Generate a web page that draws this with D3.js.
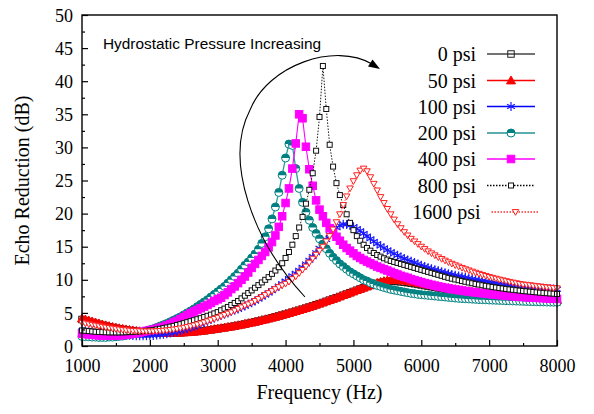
<!DOCTYPE html>
<html><head><meta charset="utf-8">
<script src="https://cdn.jsdelivr.net/npm/d3@7"></script>
<style>body{margin:0;background:#fff}svg{display:block}</style>
</head><body><svg id="c" width="594" height="414"></svg>
<script>
// Frequency grid (Hz): 1000..8000 every 50 Hz
const frequencies = d3.range(1000, 8001, 50);
const xTickValues = [1000,2000,3000,4000,5000,6000,7000,8000];
const yTickValues = [0,5,10,15,20,25,30,35,40,45,50];
const seriesNames = ["0 psi","50 psi","100 psi","200 psi","400 psi","800 psi","1600 psi"];

const psi0 = [4.0,
3.85,3.7,3.56,3.42,3.28,3.15,3.03,2.91,2.8,2.7,
2.6,2.51,2.43,2.36,2.29,2.23,2.17,2.12,2.08,2.04,
2.01,1.99,1.97,1.96,1.96,1.96,1.97,1.99,2.01,2.04,
2.07,2.11,2.15,2.2,2.25,2.31,2.37,2.44,2.51,2.59,
2.67,2.75,2.84,2.93,3.02,3.12,3.22,3.32,3.43,3.54,
3.65,3.77,3.89,4.01,4.14,4.27,4.4,4.54,4.68,4.82,
4.96,5.11,5.26,5.41,5.57,5.73,5.89,6.06,6.23,6.4,
6.57,6.75,6.93,7.11,7.29,7.48,7.67,7.86,8.05,8.24,
8.43,8.62,8.8,8.98,9.15,9.31,9.46,9.58,9.68,9.74,
9.77,9.77,9.74,9.69,9.63,9.56,9.48,9.4,9.31,9.22,
9.13,9.04,8.95,8.86,8.77,8.68,8.59,8.5,8.42,8.34,
8.26,8.18,8.1,8.03,7.96,7.89,7.82,7.75,7.69,7.63,
7.57,7.51,7.45,7.4,7.34,7.29,7.24,7.19,7.14,7.09,
7.05,7.0,6.96,6.91,6.87,6.83,6.79,6.75,6.71,6.68];

const psi50 = [4.15,
4.0,3.85,3.7,3.55,3.4,3.25,3.12,3.0,2.88,2.77,
2.67,2.58,2.5,2.42,2.35,2.28,2.22,2.17,2.12,2.08,
2.05,2.02,2.0,1.99,1.98,1.98,1.99,2.0,2.02,2.05,
2.08,2.12,2.16,2.21,2.27,2.33,2.4,2.47,2.55,2.63,
2.7,2.78,2.86,2.95,3.04,3.13,3.23,3.33,3.44,3.55,
3.66,3.78,3.9,4.02,4.15,4.28,4.41,4.55,4.69,4.83,
4.97,5.12,5.27,5.42,5.58,5.74,5.9,6.07,6.24,6.41,
6.58,6.76,6.94,7.12,7.3,7.49,7.68,7.87,8.06,8.25,
8.44,8.63,8.82,9.0,9.18,9.35,9.52,9.67,9.8,9.9,
9.96,9.98,9.97,9.93,9.87,9.8,9.72,9.64,9.55,9.46,
9.37,9.28,9.19,9.1,9.01,8.92,8.83,8.74,8.66,8.58,
8.5,8.42,8.34,8.27,8.2,8.13,8.06,7.99,7.93,7.87,
7.81,7.75,7.69,7.64,7.58,7.53,7.48,7.43,7.38,7.33,
7.29,7.24,7.2,7.15,7.11,7.07,7.03,6.99,6.95,6.92];

const psi100 = [2.25,
2.2,2.15,2.1,2.05,2.0,1.95,1.9,1.85,1.8,1.76,
1.72,1.68,1.64,1.61,1.58,1.56,1.55,1.55,1.56,1.58,
1.6,1.65,1.7,1.78,1.86,1.95,2.05,2.17,2.3,2.44,
2.6,2.77,2.95,3.14,3.34,3.55,3.77,4.0,4.2,4.4,
4.6,4.8,5.0,5.2,5.4,5.6,5.8,6.05,6.3,6.55,
6.8,7.1,7.4,7.7,8.0,8.35,8.7,9.05,9.4,9.8,
10.2,10.6,11.0,11.45,11.9,12.4,12.95,13.5,14.1,14.75,
15.4,16.1,16.8,17.4,17.85,18.2,18.4,18.35,18.2,18.0,
17.7,17.4,17.0,16.6,16.2,15.8,15.45,15.1,14.8,14.5,
14.2,13.95,13.7,13.45,13.2,13.0,12.8,12.6,12.4,12.2,
12.0,11.83,11.66,11.5,11.35,11.2,11.06,10.93,10.8,10.68,
10.56,10.45,10.34,10.23,10.13,10.03,9.94,9.85,9.76,9.68,
9.6,9.52,9.45,9.38,9.31,9.25,9.19,9.13,9.07,9.02,
8.97,8.92,8.87,8.82,8.78,8.74,8.7,8.66,8.62,8.58];

const psi200 = [1.45,
1.4,1.4,1.35,1.35,1.3,1.3,1.3,1.35,1.35,1.4,
1.45,1.5,1.6,1.7,1.8,1.9,2.0,2.15,2.3,2.45,
2.6,2.8,3.0,3.2,3.4,3.65,3.9,4.15,4.4,4.7,
5.0,5.3,5.6,5.95,6.3,6.65,7.0,7.4,7.8,8.2,
8.6,9.0,9.5,10.0,10.5,11.0,11.6,12.2,12.7,13.3,
13.9,14.6,15.5,16.5,17.7,19.2,21.0,23.2,25.8,28.4,
30.5,30.3,26.8,23.8,21.7,20.2,19.0,17.9,17.0,16.2,
15.4,14.7,14.0,13.4,12.9,12.4,12.0,11.6,11.2,10.9,
10.6,10.3,10.0,9.8,9.55,9.35,9.15,9.0,8.85,8.7,
8.55,8.45,8.35,8.25,8.15,8.05,7.95,7.9,7.8,7.75,
7.7,7.65,7.6,7.55,7.5,7.45,7.4,7.35,7.3,7.25,
7.2,7.17,7.14,7.11,7.08,7.05,7.02,7.0,6.98,6.95,
6.93,6.91,6.89,6.87,6.85,6.83,6.81,6.79,6.77,6.75,
6.73,6.72,6.7,6.69,6.67,6.66,6.64,6.63,6.62,6.61];

const psi400 = [1.85,
1.8,1.75,1.7,1.65,1.6,1.58,1.56,1.55,1.56,1.58,
1.6,1.65,1.7,1.78,1.86,1.95,2.05,2.15,2.28,2.4,
2.45,2.6,2.75,2.9,3.1,3.3,3.55,3.8,4.05,4.35,
4.65,4.95,5.2,5.45,5.7,5.95,6.2,6.5,6.8,7.05,
7.3,7.7,8.1,8.6,9.0,9.5,10.0,10.5,11.1,11.8,
12.4,13.0,13.6,14.2,14.9,15.7,16.7,18.0,19.6,21.6,
23.8,26.8,30.6,35.0,34.4,30.1,26.7,24.2,22.0,20.6,
19.6,18.6,17.8,17.1,16.5,15.9,15.3,14.8,14.4,14.0,
13.6,13.3,13.0,12.75,12.5,12.25,12.0,11.8,11.6,11.4,
11.2,11.0,10.8,10.6,10.45,10.3,10.1,9.95,9.8,9.65,
9.5,9.38,9.25,9.12,9.0,8.9,8.8,8.7,8.6,8.52,
8.45,8.38,8.3,8.23,8.16,8.1,8.04,7.98,7.92,7.86,
7.8,7.75,7.7,7.65,7.6,7.56,7.52,7.48,7.44,7.4,
7.37,7.34,7.31,7.28,7.25,7.22,7.19,7.16,7.13,7.11];

const psi800 = [2.35,
2.3,2.25,2.2,2.15,2.12,2.1,2.08,2.06,2.05,2.05,
2.05,2.06,2.08,2.1,2.13,2.16,2.2,2.25,2.3,2.35,
2.4,2.5,2.6,2.7,2.8,2.92,3.04,3.17,3.3,3.45,
3.6,3.75,3.9,4.05,4.2,4.38,4.56,4.74,4.93,5.12,
5.4,5.65,5.9,6.2,6.5,6.8,7.2,7.6,8.0,8.4,
8.8,9.2,9.6,10.0,10.4,10.9,11.4,11.9,12.5,13.3,
14.2,15.3,16.6,17.9,19.5,21.5,23.6,26.1,29.5,34.6,
42.3,35.8,30.4,27.1,24.6,22.8,21.3,19.9,18.6,17.5,
16.6,15.9,15.3,14.8,14.4,14.05,13.75,13.5,13.25,13.05,
12.85,12.7,12.55,12.4,12.25,12.1,11.95,11.8,11.65,11.5,
11.35,11.2,11.05,10.9,10.75,10.6,10.45,10.3,10.17,10.05,
9.93,9.81,9.7,9.59,9.48,9.38,9.28,9.18,9.09,9.0,
8.92,8.84,8.76,8.69,8.62,8.55,8.49,8.43,8.37,8.31,
8.26,8.21,8.16,8.11,8.06,8.02,7.98,7.94,7.9,7.86];

const psi1600 = [3.5,
3.4,3.3,3.2,3.1,3.0,2.9,2.8,2.72,2.64,2.56,
2.5,2.44,2.38,2.33,2.29,2.26,2.24,2.22,2.21,2.21,
2.22,2.24,2.27,2.31,2.36,2.42,2.49,2.57,2.66,2.76,
2.87,2.99,3.12,3.26,3.41,3.57,3.74,3.92,4.1,4.29,
4.5,4.7,4.9,5.1,5.35,5.6,5.85,6.1,6.3,6.55,
6.8,7.1,7.4,7.7,8.0,8.3,8.6,8.9,9.15,9.4,
9.7,10.1,10.5,11.0,11.5,12.0,12.6,13.2,13.8,14.4,
15.0,15.8,16.6,17.6,18.7,19.9,21.3,22.6,23.8,24.9,
25.8,26.5,26.8,26.4,25.5,24.5,23.5,22.5,21.6,20.7,
19.9,19.1,18.4,17.8,17.2,16.7,16.2,15.8,15.4,15.0,
14.65,14.3,14.0,13.7,13.4,13.15,12.9,12.65,12.42,12.2,
12.0,11.8,11.6,11.42,11.24,11.07,10.9,10.74,10.59,10.44,
10.3,10.17,10.04,9.92,9.8,9.69,9.58,9.48,9.38,9.29,
9.25,9.18,9.11,9.04,8.98,8.92,8.86,8.81,8.76,8.72];

const seriesValues = [psi0, psi50, psi100, psi200, psi400, psi800, psi1600];

// ---------- styling ----------
const styles = [
  {line:"#444", width:1.1, dash:null, marker:"square", size:6.5, stroke:"#222", fill:"none"},
  {line:"#ff0000", width:1.1, dash:null, marker:"triUp", size:9, stroke:"#ff0000", fill:"#ff0000"},
  {line:"#0000ff", width:1.1, dash:null, marker:"aster", size:9, stroke:"#1a1aff", fill:"none"},
  {line:"#2a9d9d", width:1.3, dash:null, marker:"halfCircle", size:8, stroke:"#008080", fill:"#008080"},
  {line:"#ff00ff", width:1.1, dash:null, marker:"square", size:7.5, stroke:"#ff00ff", fill:"#ff00ff"},
  {line:"#000", width:0.9, dash:"1.5,1.5", marker:"square", size:5, stroke:"#111", fill:"#fff"},
  {line:"#ff3030", width:1, dash:"1.5,1.5", marker:"triDown", size:6.5, stroke:"#ff2020", fill:"#fff"}
];

const svg = d3.select("#c");
const mLeft = 82, mRight = 557, mTop = 15, mBottom = 346;
const x = d3.scaleLinear().domain([1000, 8000]).range([mLeft, mRight]);
const y = d3.scaleLinear().domain([0, 50]).range([mBottom, mTop]);

const serif = "'Liberation Serif','Times New Roman',serif";

function drawMarker(g, type, size, stroke, fill, cx, cy) {
  const h = size / 2;
  if (type === "square") {
    g.append("rect").attr("x", cx - h).attr("y", cy - h).attr("width", size).attr("height", size)
      .attr("fill", fill).attr("stroke", stroke).attr("stroke-width", 1);
  } else if (type === "triUp") {
    g.append("path").attr("d", `M${cx},${cy - h}L${cx + h},${cy + h*0.75}L${cx - h},${cy + h*0.75}Z`)
      .attr("fill", fill).attr("stroke", stroke).attr("stroke-width", 1);
  } else if (type === "triDown") {
    g.append("path").attr("d", `M${cx},${cy + h}L${cx + h},${cy - h*0.75}L${cx - h},${cy - h*0.75}Z`)
      .attr("fill", fill).attr("stroke", stroke).attr("stroke-width", 1);
  } else if (type === "aster") {
    const a = h, b = h * 0.87, c = h * 0.5;
    g.append("path").attr("d", `M${cx},${cy - a}L${cx},${cy + a}M${cx - b},${cy - c}L${cx + b},${cy + c}M${cx - b},${cy + c}L${cx + b},${cy - c}`)
      .attr("fill", "none").attr("stroke", stroke).attr("stroke-width", 1.2);
  } else if (type === "halfCircle") {
    g.append("circle").attr("cx", cx).attr("cy", cy).attr("r", h).attr("fill", "#fff").attr("stroke", stroke).attr("stroke-width", 1);
    g.append("path").attr("d", `M${cx - h},${cy}A${h},${h} 0 0 1 ${cx + h},${cy}Z`).attr("fill", fill);
  }
}

// ---------- series ----------
const plot = svg.append("g");
seriesValues.forEach((vals, si) => {
  const st = styles[si];
  const pts = frequencies.map((f, i) => [f, vals[i]]);
  const line = d3.line().x(d => x(d[0])).y(d => y(d[1]));
  const g = plot.append("g");
  g.append("path").attr("d", line(pts)).attr("fill", "none").attr("stroke", st.line)
    .attr("stroke-width", st.width).attr("stroke-dasharray", st.dash);
  const mg = g.append("g");
  pts.forEach(d => drawMarker(mg, st.marker, st.size, st.stroke, st.fill, x(d[0]), y(d[1])));
});

// ---------- axes ----------
svg.append("rect").attr("x", mLeft).attr("y", mTop).attr("width", mRight - mLeft).attr("height", mBottom - mTop)
  .attr("fill", "none").attr("stroke", "#000").attr("stroke-width", 1.4);

const xAxis = d3.axisBottom(x).tickValues(xTickValues).tickSize(-6).tickPadding(13).tickFormat(d3.format("d"));
const gx = svg.append("g").attr("transform", `translate(0,${mBottom})`).call(xAxis);
const xMinor = d3.axisBottom(x).tickValues(d3.range(1500, 8000, 1000)).tickSize(-3).tickFormat("");
svg.append("g").attr("transform", `translate(0,${mBottom})`).call(xMinor);

const yAxis = d3.axisLeft(y).tickValues(yTickValues).tickSize(-6).tickPadding(9);
const gy = svg.append("g").attr("transform", `translate(${mLeft},0)`).call(yAxis);
const yMinor = d3.axisLeft(y).tickValues(d3.range(2.5, 50, 5)).tickSize(-3).tickFormat("");
svg.append("g").attr("transform", `translate(${mLeft},0)`).call(yMinor);

svg.selectAll(".domain").remove();
svg.selectAll(".tick line").attr("stroke", "#000").attr("stroke-width", 1.2);
gx.selectAll("text").attr("font-family", serif).attr("font-size", 18).attr("fill", "#000");
gy.selectAll("text").attr("font-family", serif).attr("font-size", 18).attr("fill", "#000").attr("dy", "0.34em");

svg.append("text").attr("x", (mLeft + mRight) / 2).attr("y", 399).attr("text-anchor", "middle")
  .attr("font-family", serif).attr("font-size", 20).text("Frequency (Hz)");
svg.append("text").attr("transform", `translate(29,${(mTop + mBottom) / 2}) rotate(-90)`).attr("text-anchor", "middle")
  .attr("font-family", serif).attr("font-size", 20).text("Echo Reduction (dB)");

// ---------- annotation ----------
svg.append("text").attr("x", 103).attr("y", 49).attr("font-family", "'Liberation Sans',Arial,sans-serif")
  .attr("font-size", 15.4).text("Hydrostatic Pressure Increasing");
const arc = d3.path();
arc.moveTo(305, 297);
arc.bezierCurveTo(252, 240, 224, 160, 250, 110);
arc.bezierCurveTo(268, 65, 335, 42, 372, 64);
svg.append("path").attr("d", arc.toString()).attr("fill", "none").attr("stroke", "#000").attr("stroke-width", 1.1);
svg.append("path").attr("d", "M380,69 L368,66.5 L372.5,59.5 Z").attr("fill", "#000");

// ---------- legend ----------
const legend = svg.append("g");
const rowY = [54, 80.5, 106.5, 133, 159, 185.5, 212];
seriesNames.forEach((name, i) => {
  const dx = i === 6 ? 4.5 : 0;
  const st = styles[i];
  const cy = rowY[i];
  legend.append("text").attr("x", 476 + dx).attr("y", cy + 7).attr("text-anchor", "end")
    .attr("font-family", serif).attr("font-size", 20).text(name);
  legend.append("line").attr("x1", 487 + dx).attr("x2", 535 + dx).attr("y1", cy).attr("y2", cy)
    .attr("stroke", i === 3 ? "#5aadad" : st.line).attr("stroke-width", i === 3 ? 2.2 : 1.3)
    .attr("stroke-dasharray", st.dash);
  drawMarker(legend, st.marker, st.size, st.stroke, st.fill, 511 + dx, cy);
});
</script>
</body></html>
